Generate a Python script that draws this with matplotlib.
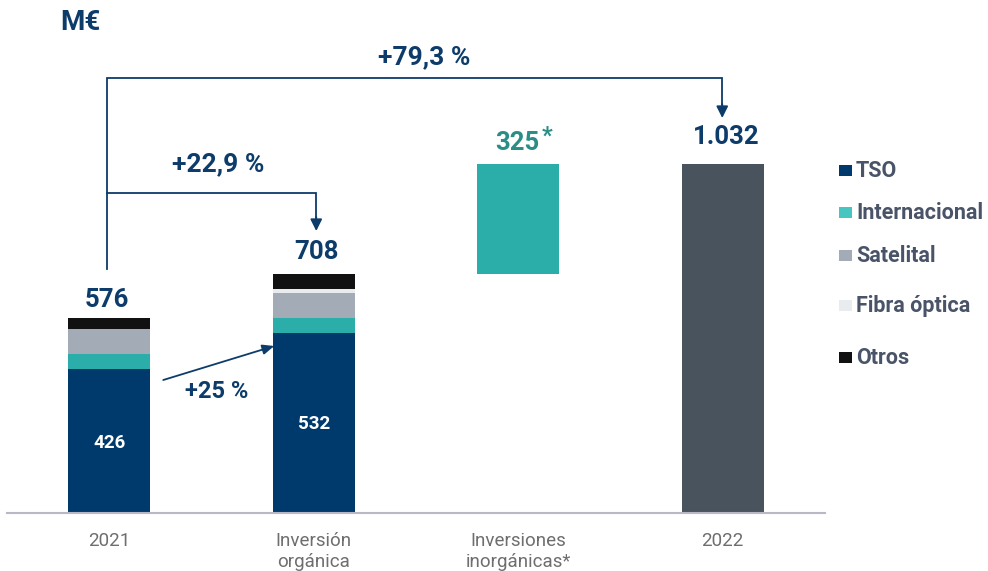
import matplotlib
matplotlib.use("Agg")
import matplotlib.pyplot as plt
from matplotlib.patches import Rectangle

plt.rcParams['font.family'] = ['Roboto', 'DejaVu Sans']

# ---- data ----
categories = ["2021", "Inversión\norgánica", "Inversiones\ninorgánicas*", "2022"]
segments = ["TSO", "Internacional", "Satelital", "Fibra óptica", "Otros"]
seg_2021 = [426, 45, 72, 2, 31]
seg_organica = [532, 44, 74, 12, 46]
total_2021 = 576
total_organica = 708
inorganic = 325
total_2022 = 1032
growth_labels = ["+22,9 %", "+79,3 %", "+25 %"]

# ---- styles ----
seg_colors = ["#003A6C", "#2BADA9", "#A3ACB6", "#E9ECEE", "#111111"]
legend_colors = ["#003A6C", "#47C6C1", "#A3ACB6", "#E9ECEE", "#111111"]
c_2022 = "#48535E"
navy = "#0D3C6B"
teal_txt = "#2A8E87"

W, H = 988, 571
fig = plt.figure(figsize=(W / 100, H / 100), dpi=100)
base_px = 513
scale = 0.338
ax = fig.add_axes([7 / W, (H - base_px) / H, 818 / W, base_px / H])
ax.set_xlim(-0.5, 3.5)
ax.set_ylim(0, base_px / scale)

def py(p):
    """pixel row -> data value"""
    return (base_px - p) / scale

def px(p):
    return (p - 109) / 204.5

bw = 0.4
# stacked bars
for xi, segs in [(0, seg_2021), (1, seg_organica)]:
    bottom = 0
    for v, c in zip(segs, seg_colors):
        ax.bar(xi, v, bw, bottom=bottom, color=c, linewidth=0)
        bottom += v
# inorganic floating bar
ax.bar(2, inorganic, bw, bottom=total_organica, color=seg_colors[1], linewidth=0)
# 2022 bar
ax.bar(3, total_2022, bw, color=c_2022, linewidth=0)

# axes style
for s in ["top", "right", "left"]:
    ax.spines[s].set_visible(False)
ax.spines["bottom"].set_color("#B8B8C6")
ax.spines["bottom"].set_linewidth(1.5)
ax.set_yticks([])
ax.set_xticks(range(4))
ax.set_xticklabels(categories, fontsize=13.5, color="#6E6E6E", linespacing=1.15)
ax.tick_params(axis="x", length=0, pad=14)

# value labels
vfs = 18.5
pfs = 19
ax.text(px(107), py(300), f"{total_2021}", ha="center", va="center",
        fontsize=vfs, fontweight="bold", color=navy)
ax.text(px(316), py(252), f"{total_organica}", ha="center", va="center",
        fontsize=vfs, fontweight="bold", color=navy)
ax.text(px(517), py(143), f"{inorganic}", ha="center", va="center",
        fontsize=vfs, fontweight="bold", color=teal_txt)
ax.text(px(541), py(136), "*", ha="left", va="center",
        fontsize=17, fontweight="bold", color=teal_txt)
ax.text(px(726), py(137), "1.032", ha="center", va="center",
        fontsize=vfs, fontweight="bold", color=navy)
ax.text(0, py(443), f"{seg_2021[0]}", ha="center", va="center",
        fontsize=13.5, fontweight="bold", color="white")
ax.text(1, py(424), f"{seg_organica[0]}", ha="center", va="center",
        fontsize=13.5, fontweight="bold", color="white")

# brackets
lc = navy
lw = 1.3
x_l = px(107)
# big bracket
ax.plot([x_l, x_l, px(722), px(722)], [py(269), py(78), py(78), py(105)],
        color=lc, lw=lw, solid_joinstyle="miter")
ax.annotate("", xy=(px(722), py(118)), xytext=(px(722), py(104)),
            arrowprops=dict(arrowstyle="-|>,head_length=0.7,head_width=0.35",
                            color=lc, lw=lw, shrinkA=0, shrinkB=0))
# small bracket
ax.plot([x_l, px(316), px(316)], [py(193), py(193), py(218)],
        color=lc, lw=lw, solid_joinstyle="miter")
ax.annotate("", xy=(px(316), py(231)), xytext=(px(316), py(217)),
            arrowprops=dict(arrowstyle="-|>,head_length=0.7,head_width=0.35",
                            color=lc, lw=lw, shrinkA=0, shrinkB=0))
ax.text(px(424), py(57), growth_labels[1], ha="center", va="center",
        fontsize=pfs, fontweight="bold", color=navy)
ax.text(px(218), py(164), growth_labels[0], ha="center", va="center",
        fontsize=pfs, fontweight="bold", color=navy)

# +25 % arrow
ax.annotate("", xy=(px(274), py(346)), xytext=(px(163), py(380)),
            arrowprops=dict(arrowstyle="-|>,head_length=0.7,head_width=0.3",
                            color=lc, lw=lw, shrinkA=0, shrinkB=0))
ax.text(px(216), py(392), growth_labels[2], ha="center", va="center",
        fontsize=17, fontweight="bold", color=navy)

# unit
fig.text(80 / W, 1 - 23 / H, "M€", ha="center", va="center",
         fontsize=20, fontweight="bold", color=navy)

# legend (manual placement to match uneven spacing)
leg_rows = [171, 213, 256, 306, 358]
for lab, c, r in zip(segments, legend_colors, leg_rows):
    fig.patches.append(Rectangle((839 / W, 1 - (r + 5) / H), 13 / W, 11 / H,
                                 transform=fig.transFigure, facecolor=c,
                                 edgecolor="none"))
    fig.text(856 / W, 1 - r / H, lab, ha="left", va="center",
             fontsize=15.5, fontweight="bold", color="#4A5468")

fig.savefig("out.png", dpi=100)
